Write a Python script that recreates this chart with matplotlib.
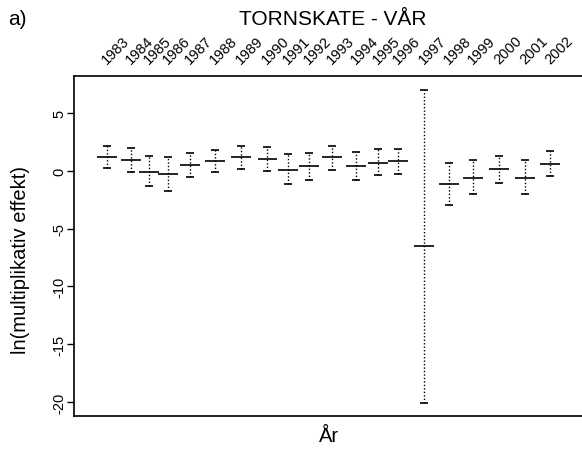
import matplotlib.pyplot as plt

plt.rcParams['font.family'] = ['Liberation Sans', 'DejaVu Sans']

# years and their (uneven) positions along the x axis
years = ['1983', '1984', '1985', '1986', '1987', '1988', '1989', '1990', '1991', '1992',
         '1993', '1994', '1995', '1996', '1997', '1998', '1999', '2000', '2001', '2002']
xpos = [10.7, 13.1, 14.9, 16.8, 19.0, 21.5, 24.1, 26.8, 28.9, 31.0,
        33.3, 35.7, 37.9, 39.9, 42.5, 45.0, 47.4, 50.0, 52.6, 55.1]

# estimate and interval limits, ln scale
est = [1.21, 0.95, -0.09, -0.29, 0.49, 0.84, 1.16, 1.04, 0.09, 0.41,
       1.16, 0.41, 0.69, 0.81, -6.48, -1.12, -0.61, 0.12, -0.61, 0.61]
upper = [2.16, 1.99, 1.24, 1.21, 1.56, 1.79, 2.16, 2.08, 1.42, 1.50,
         2.16, 1.59, 1.85, 1.90, 7.0, 0.69, 0.90, 1.30, 0.90, 1.68]
lower = [0.26, -0.09, -1.35, -1.73, -0.52, -0.14, 0.15, -0.03, -1.18, -0.81,
         0.09, -0.81, -0.35, -0.26, -20.1, -3.0, -2.02, -1.09, -2.02, -0.49]

fig = plt.figure(figsize=(5.82, 4.56), dpi=100)
ax = fig.add_axes([0.128, 0.086, 0.872, 0.745])

ax.vlines(xpos, lower, upper, colors='black', linestyles=(0, (1, 1.5)), linewidth=1)
ax.hlines(upper, [x - 0.4 for x in xpos], [x + 0.4 for x in xpos], colors='black', linewidth=1.2)
ax.hlines(lower, [x - 0.4 for x in xpos], [x + 0.4 for x in xpos], colors='black', linewidth=1.2)
ax.hlines(est, [x - 1.0 for x in xpos], [x + 1.0 for x in xpos], colors='black', linewidth=1.2)

ax.set_xlim(7.47, 58.3)
ax.set_ylim(-21.2, 8.2)

ax.spines['right'].set_visible(False)
for s in ['left', 'top', 'bottom']:
    ax.spines[s].set_linewidth(1.2)

ax.set_yticks([-20, -15, -10, -5, 0, 5])
ax.set_yticklabels(['-20', '-15', '-10', '-5', '0', '5'], rotation=90, va='center', fontsize=10.5)
ax.tick_params(axis='y', length=5, width=1, pad=1)

ax.xaxis.tick_top()
ax.set_xticks([x + 0.2 for x in xpos])
ax.set_xticklabels(years, rotation=45, ha='left', va='bottom', rotation_mode='anchor', fontsize=10.5)
ax.tick_params(axis='x', length=0, pad=7)

fig.text(0.036, 0.43, 'ln(multiplikativ effekt)', rotation=90, ha='center', va='center', fontsize=14.5)
fig.text(0.565, 0.042, 'År', ha='center', va='center', fontsize=14.5)
fig.text(0.571, 0.958, 'TORNSKATE - VÅR', ha='center', va='center', fontsize=15)
fig.text(0.014, 0.958, 'a)', ha='left', va='center', fontsize=15)

fig.savefig('out.png', dpi=100)
